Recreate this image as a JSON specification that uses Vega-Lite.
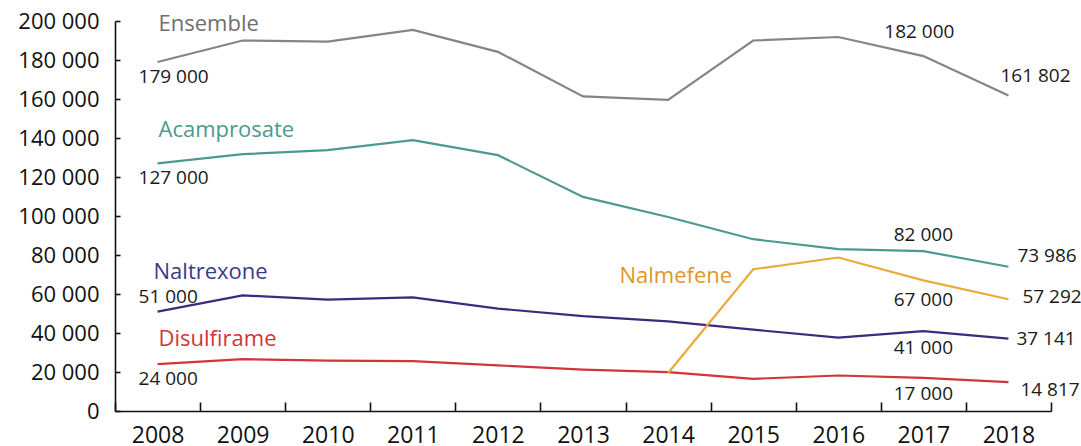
{
  "$schema": "https://vega.github.io/schema/vega-lite/v6.json",
  "autosize": {"type": "none"},
  "width": 936,
  "height": 390,
  "padding": {"left": 115, "top": 21, "right": 30, "bottom": 35},
  "background": "white",
  "config": {
    "view": {"stroke": null},
    "locale": {"number": {"decimal": ",", "thousands": " ", "grouping": [3], "currency": ["", " €"]}},
    "text": {"font": "Open Sans", "fontSize": 19, "color": "#1a1a1a"},
    "axis": {"labelFont": "Open Sans", "labelColor": "#111111", "domainColor": "#111111", "tickColor": "#111111", "domainWidth": 1.6, "tickWidth": 1.6, "grid": false, "title": null}
  },
  "data": {
    "values": [
      {"series": "Ensemble", "year": "2008", "value": 179000},
      {"series": "Ensemble", "year": "2009", "value": 190000},
      {"series": "Ensemble", "year": "2010", "value": 189400},
      {"series": "Ensemble", "year": "2011", "value": 195400},
      {"series": "Ensemble", "year": "2012", "value": 184200},
      {"series": "Ensemble", "year": "2013", "value": 161300},
      {"series": "Ensemble", "year": "2014", "value": 159600},
      {"series": "Ensemble", "year": "2015", "value": 190000},
      {"series": "Ensemble", "year": "2016", "value": 191800},
      {"series": "Ensemble", "year": "2017", "value": 182000},
      {"series": "Ensemble", "year": "2018", "value": 161802},
      {"series": "Acamprosate", "year": "2008", "value": 127000},
      {"series": "Acamprosate", "year": "2009", "value": 131700},
      {"series": "Acamprosate", "year": "2010", "value": 133800},
      {"series": "Acamprosate", "year": "2011", "value": 138900},
      {"series": "Acamprosate", "year": "2012", "value": 131200},
      {"series": "Acamprosate", "year": "2013", "value": 109800},
      {"series": "Acamprosate", "year": "2014", "value": 99500},
      {"series": "Acamprosate", "year": "2015", "value": 88100},
      {"series": "Acamprosate", "year": "2016", "value": 83000},
      {"series": "Acamprosate", "year": "2017", "value": 82000},
      {"series": "Acamprosate", "year": "2018", "value": 73986},
      {"series": "Naltrexone", "year": "2008", "value": 51000},
      {"series": "Naltrexone", "year": "2009", "value": 59300},
      {"series": "Naltrexone", "year": "2010", "value": 57100},
      {"series": "Naltrexone", "year": "2011", "value": 58300},
      {"series": "Naltrexone", "year": "2012", "value": 52500},
      {"series": "Naltrexone", "year": "2013", "value": 48700},
      {"series": "Naltrexone", "year": "2014", "value": 46000},
      {"series": "Naltrexone", "year": "2015", "value": 41700},
      {"series": "Naltrexone", "year": "2016", "value": 37600},
      {"series": "Naltrexone", "year": "2017", "value": 41000},
      {"series": "Naltrexone", "year": "2018", "value": 37141},
      {"series": "Disulfirame", "year": "2008", "value": 24000},
      {"series": "Disulfirame", "year": "2009", "value": 26600},
      {"series": "Disulfirame", "year": "2010", "value": 25800},
      {"series": "Disulfirame", "year": "2011", "value": 25600},
      {"series": "Disulfirame", "year": "2012", "value": 23400},
      {"series": "Disulfirame", "year": "2013", "value": 21200},
      {"series": "Disulfirame", "year": "2014", "value": 19900},
      {"series": "Disulfirame", "year": "2015", "value": 16500},
      {"series": "Disulfirame", "year": "2016", "value": 18200},
      {"series": "Disulfirame", "year": "2017", "value": 17000},
      {"series": "Disulfirame", "year": "2018", "value": 14817},
      {"series": "Nalmefene", "year": "2014", "value": 19500},
      {"series": "Nalmefene", "year": "2015", "value": 72700},
      {"series": "Nalmefene", "year": "2016", "value": 78700},
      {"series": "Nalmefene", "year": "2017", "value": 67000},
      {"series": "Nalmefene", "year": "2018", "value": 57292}
    ]
  },
  "encoding": {
    "x": {
      "field": "year", "type": "ordinal",
      "scale": {"type": "band", "paddingInner": 0, "paddingOuter": 0},
      "bandPosition": 0.5,
      "axis": {"labelAngle": 0, "labelFontSize": 23, "tickBand": "extent", "tickSize": -9, "labelPadding": 22, "labelBaseline": "top"}
    },
    "y": {
      "field": "value", "type": "quantitative",
      "scale": {"domain": [0, 200000], "nice": false, "zero": true},
      "axis": {"values": [0, 20000, 40000, 60000, 80000, 100000, 120000, 140000, 160000, 180000, 200000], "format": ",.0f", "labelFontSize": 22, "tickSize": -5, "labelPadding": 21}
    }
  },
  "layer": [
    {
      "mark": {"type": "line", "strokeWidth": 2.2},
      "encoding": {
        "color": {"field": "series", "type": "nominal", "legend": null,
          "scale": {"domain": ["Ensemble", "Acamprosate", "Naltrexone", "Disulfirame", "Nalmefene"],
                    "range": ["#858585", "#4a9a8f", "#3d2a7d", "#d1343a", "#e8ab3a"]}}
      }
    },
    {
      "transform": [{"filter": "datum.year == '2008' && datum.series != 'Naltrexone'"}],
      "mark": {"type": "text", "align": "left", "baseline": "middle", "dx": -19, "dy": 15},
      "encoding": {"text": {"field": "value", "type": "quantitative", "format": ","}}
    },
    {
      "transform": [{"filter": "datum.year == '2008' && datum.series == 'Naltrexone'"}],
      "mark": {"type": "text", "align": "left", "baseline": "middle", "dx": -19, "dy": -14.5},
      "encoding": {"text": {"field": "value", "type": "quantitative", "format": ","}}
    },
    {
      "transform": [{"filter": "datum.year == '2017' && datum.series == 'Ensemble'"}],
      "mark": {"type": "text", "align": "center", "baseline": "middle", "dx": -4, "dy": -24},
      "encoding": {"text": {"field": "value", "type": "quantitative", "format": ","}}
    },
    {
      "transform": [{"filter": "datum.year == '2017' && datum.series == 'Acamprosate'"}],
      "mark": {"type": "text", "align": "center", "baseline": "middle", "dx": 0, "dy": -16},
      "encoding": {"text": {"field": "value", "type": "quantitative", "format": ","}}
    },
    {
      "transform": [{"filter": "datum.year == '2017' && datum.series == 'Nalmefene'"}],
      "mark": {"type": "text", "align": "center", "baseline": "middle", "dx": 0, "dy": 20},
      "encoding": {"text": {"field": "value", "type": "quantitative", "format": ","}}
    },
    {
      "transform": [{"filter": "datum.year == '2017' && (datum.series == 'Naltrexone' || datum.series == 'Disulfirame')"}],
      "mark": {"type": "text", "align": "center", "baseline": "middle", "dx": 0, "dy": 16.5},
      "encoding": {"text": {"field": "value", "type": "quantitative", "format": ","}}
    },
    {
      "transform": [{"filter": "datum.year == '2018' && datum.series == 'Ensemble'"}],
      "mark": {"type": "text", "align": "left", "baseline": "middle", "dx": -8, "dy": -19},
      "encoding": {"text": {"field": "value", "type": "quantitative", "format": ","}}
    },
    {
      "transform": [{"filter": "datum.year == '2018' && datum.series == 'Acamprosate'"}],
      "mark": {"type": "text", "align": "left", "baseline": "middle", "dx": 9, "dy": -11},
      "encoding": {"text": {"field": "value", "type": "quantitative", "format": ","}}
    },
    {
      "transform": [{"filter": "datum.year == '2018' && datum.series == 'Nalmefene'"}],
      "mark": {"type": "text", "align": "left", "baseline": "middle", "dx": 14, "dy": -2},
      "encoding": {"text": {"field": "value", "type": "quantitative", "format": ","}}
    },
    {
      "transform": [{"filter": "datum.year == '2018' && datum.series == 'Naltrexone'"}],
      "mark": {"type": "text", "align": "left", "baseline": "middle", "dx": 8, "dy": 0},
      "encoding": {"text": {"field": "value", "type": "quantitative", "format": ","}}
    },
    {
      "transform": [{"filter": "datum.year == '2018' && datum.series == 'Disulfirame'"}],
      "mark": {"type": "text", "align": "left", "baseline": "middle", "dx": 12, "dy": 8},
      "encoding": {"text": {"field": "value", "type": "quantitative", "format": ","}}
    },
    {
      "transform": [{"filter": "datum.year == '2008' && datum.series == 'Ensemble'"}],
      "mark": {"type": "text", "align": "left", "baseline": "alphabetic", "dx": 1, "dy": -31, "fontSize": 22, "color": "#6e6e6e"},
      "encoding": {"text": {"field": "series"}}
    },
    {
      "transform": [{"filter": "datum.year == '2008' && datum.series == 'Acamprosate'"}],
      "mark": {"type": "text", "align": "left", "baseline": "alphabetic", "dx": 1, "dy": -26, "fontSize": 22, "color": "#4a9a8f"},
      "encoding": {"text": {"field": "series"}}
    },
    {
      "transform": [{"filter": "datum.year == '2008' && datum.series == 'Naltrexone'"}],
      "mark": {"type": "text", "align": "left", "baseline": "alphabetic", "dx": -4, "dy": -33, "fontSize": 22, "color": "#3a3a8c"},
      "encoding": {"text": {"field": "series"}}
    },
    {
      "transform": [{"filter": "datum.year == '2008' && datum.series == 'Disulfirame'"}],
      "mark": {"type": "text", "align": "left", "baseline": "alphabetic", "dx": 1, "dy": -18, "fontSize": 22, "color": "#d1343a"},
      "encoding": {"text": {"field": "series"}}
    },
    {
      "transform": [{"filter": "datum.year == '2015' && datum.series == 'Nalmefene'"}],
      "mark": {"type": "text", "align": "right", "baseline": "alphabetic", "dx": -21, "dy": 14, "fontSize": 22, "color": "#e0952b"},
      "encoding": {"text": {"field": "series"}}
    }
  ]
}
